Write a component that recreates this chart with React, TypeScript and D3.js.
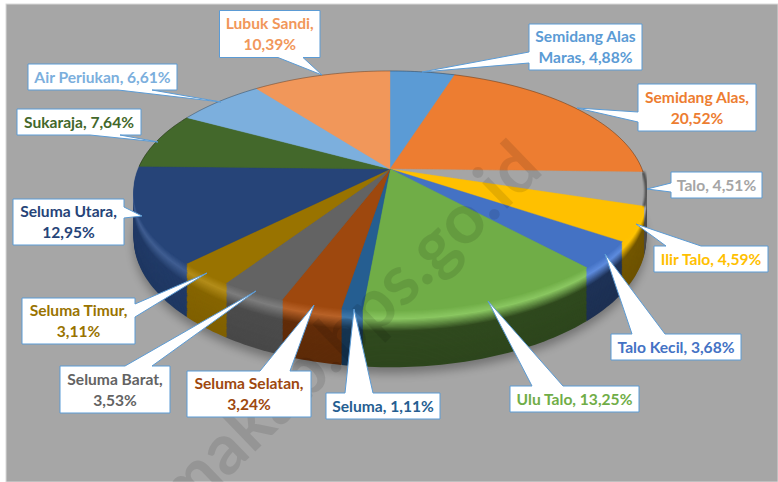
import React from "react";
import * as d3 from "d3";

const names = ["Semidang Alas Maras","Semidang Alas","Talo","Ilir Talo","Talo Kecil","Ulu Talo","Seluma","Seluma Selatan","Seluma Barat","Seluma Timur","Seluma Utara","Sukaraja","Air Periukan","Lubuk Sandi"];
const shares = [4.88,20.52,4.51,4.59,3.68,13.25,1.11,3.24,3.53,3.11,12.95,7.64,6.61,10.39];
const colors = ["#5b9bd5","#ed7d31","#a5a5a5","#ffc000","#4472c4","#70ad47","#255e91","#9e480e","#636363","#997300","#264478","#43682b","#7cafdd","#f1975a"];
const labelLines = [["Semidang Alas","Maras, 4,88%"],["Semidang Alas,","20,52%"],["Talo, 4,51%"],["Ilir Talo, 4,59%"],["Talo Kecil, 3,68%"],["Ulu Talo, 13,25%"],["Seluma, 1,11%"],["Seluma Selatan,","3,24%"],["Seluma Barat,","3,53%"],["Seluma Timur,","3,11%"],["Seluma Utara,","12,95%"],["Sukaraja, 7,64%"],["Air Periukan, 6,61%"],["Lubuk Sandi,","10,39%"]];

// callout layout: box x0,y0,x1,y1; wedge base a,b on side; tip x,y
type Side = "t"|"b"|"l"|"r";
const callouts: [number,number,number,number,Side,number,number,number,number][] = [
  [529,24,642,70,"l",52,63,422,72],
  [638,84,756,131,"l",112,122,577,108],
  [671,172,762,198,"l",183,192,647,189],
  [654,246,768,272,"t",666,701,636,224],
  [611,334,741,360,"t",632,665,605,254],
  [510,386,639,412,"t",532,563,488,301],
  [326,393,440,419,"t",345,373,354,309],
  [187,371,311,417,"t",260,290,314,305],
  [60,366,170,413,"t",125,152,256,291],
  [22,298,135,344,"r",304,317,207,273],
  [13,199,124,245,"r",207,218,142,216],
  [17,109,141,135,"b",90,120,158,142],
  [28,64,177,90,"b",118,152,221,102],
  [219.5,10.5,320,57.5,"b",278,303,322,75],
];

const W = 778, H = 482;
const cx = 390, cy = 169, A = 252, B = 116, P = 0.183, DEPTH = 46;

function project(theta: number, r: number, d: number): [number, number] {
  const u = r * Math.sin(theta), v = r * Math.cos(theta);
  const w = 1 + P * v;
  return [cx + (A * u) / w, cy - (B * v) / w + d / w];
}

const pieGen = d3.pie<number>().sort(null).value((v) => v);
const arcsData = pieGen(shares);
const lineGen = d3.line<[number, number]>();

function sectorPath(a0: number, a1: number, d: number): string {
  const n = Math.max(2, Math.ceil((a1 - a0) / 0.02));
  const pts: [number, number][] = [project(0, 0, d)];
  d3.range(n + 1).forEach((i) => pts.push(project(a0 + ((a1 - a0) * i) / n, 1, d)));
  return lineGen(pts) + "Z";
}
function arcPath(a0: number, a1: number): string {
  const n = Math.max(2, Math.ceil((a1 - a0) / 0.02));
  return lineGen(d3.range(n + 1).map((i) => project(a0 + ((a1 - a0) * i) / n, 1, 0))) as string;
}

// wall brightness as the light falls on the rim (degrees clockwise from the top)
const wallLight = d3.scaleLinear().domain([100, 170, 190, 200, 215, 280]).range([0.46, 0.42, 0.58, 0.66, 0.88, 0.84]).clamp(true);

function sideColor(base: string, d: number, deg: number): string {
  const c = d3.rgb(base);
  const f = wallLight(deg);
  const dim = (k: number) => d3.rgb(c.r * k, c.g * k, c.b * k);
  const lum = (c.r + c.g + c.b) / 3;
  const gain = lum < 130 ? 26 : 4;
  const light = d3.rgb(Math.min(255, c.r + gain), Math.min(255, c.g + gain), Math.min(255, c.b + gain));
  if (d < 7) return d3.interpolateRgb(base, light)(d / 7);
  if (d < 17) return d3.interpolateRgb(light, dim(f))((d - 7) / 10);
  return d3.interpolateRgb(dim(f), dim(f * 0.95))((d - 17) / (DEPTH - 17));
}

const depthLevels = d3.range(DEPTH, 0, -1);

function Callout({ i }: { i: number }) {
  const [x0, y0, x1, y1, side, a, b, tx, ty] = callouts[i];
  let pts: [number, number][];
  if (side === "b") pts = [[x0,y0],[x1,y0],[x1,y1],[b,y1],[tx,ty],[a,y1],[x0,y1]];
  else if (side === "t") pts = [[x0,y0],[a,y0],[tx,ty],[b,y0],[x1,y0],[x1,y1],[x0,y1]];
  else if (side === "l") pts = [[x0,y0],[x1,y0],[x1,y1],[x0,y1],[x0,b],[tx,ty],[x0,a]];
  else pts = [[x0,y0],[x1,y0],[x1,a],[tx,ty],[x1,b],[x1,y1],[x0,y1]];
  const lines = labelLines[i];
  const mx = (x0 + x1) / 2, my = (y0 + y1) / 2;
  return (
    <g>
      <path d={lineGen(pts) + "Z"} fill="#fff" stroke="#5b9bd5" strokeWidth={1} />
      {lines.map((t, k) => (
        <text key={k} x={mx} y={my + 5.5 + (k - (lines.length - 1) / 2) * 21} textAnchor="middle"
          fill={colors[i]} fontFamily="Lato" fontWeight={700} fontSize={15.6}>{t}</text>
      ))}
    </g>
  );
}

export default function App() {
  const talo = arcsData[2];
  return (
    <svg width={W} height={H} viewBox={`0 0 ${W} ${H}`} style={{ position: "absolute", left: 0, top: 0, display: "block" }}>
      <defs>
        <filter id="soft" x="-20%" y="-20%" width="140%" height="140%">
          <feGaussianBlur stdDeviation="5" />
        </filter>
        <filter id="rim" x="-20%" y="-20%" width="140%" height="140%">
          <feGaussianBlur stdDeviation="1" />
        </filter>
      </defs>
      <rect width={W} height={H} fill="#ffffff" />
      <rect x={6} y={4} width={W - 6} height={H - 4} fill="#a6a6a6" stroke="#d9d9d9" strokeWidth={1} />
      <path d={sectorPath(0, 2 * Math.PI, DEPTH + 5)} fill="#000" opacity={0.3} filter="url(#soft)" />
      {depthLevels.map((d) => (
        <g key={d}>
          {arcsData.map((s, i) => (
            <path key={i} d={sectorPath(s.startAngle, s.endAngle, d)}
              fill={sideColor(colors[i], d, (((s.startAngle + s.endAngle) / 2) * 180) / Math.PI)} />
          ))}
        </g>
      ))}
      {arcsData.map((s, i) => (
        <path key={i} d={sectorPath(s.startAngle, s.endAngle, 0)} fill={colors[i]} stroke={colors[i]} strokeWidth={0.4} />
      ))}
      {arcsData.map((s, i) => {
        const mid = (s.startAngle + s.endAngle) / 2;
        const back = Math.cos(mid) > -0.1;
        return back ? <path key={i} d={arcPath(s.startAngle, s.endAngle)} fill="none" stroke="#000" strokeOpacity={0.3} strokeWidth={1} /> : null;
      })}
      <path d={arcPath(talo.startAngle, talo.endAngle)} fill="none" stroke="#000" strokeOpacity={0.6} strokeWidth={3} filter="url(#rim)" />
      <text transform="translate(545,172) rotate(-44)" textAnchor="end" fontFamily="Lato" fontWeight={700} fontSize={70}
        fill="#000" fillOpacity={0.1}>makab.bps.go.id</text>
      {names.map((n, i) => <Callout key={n} i={i} />)}
    </svg>
  );
}
